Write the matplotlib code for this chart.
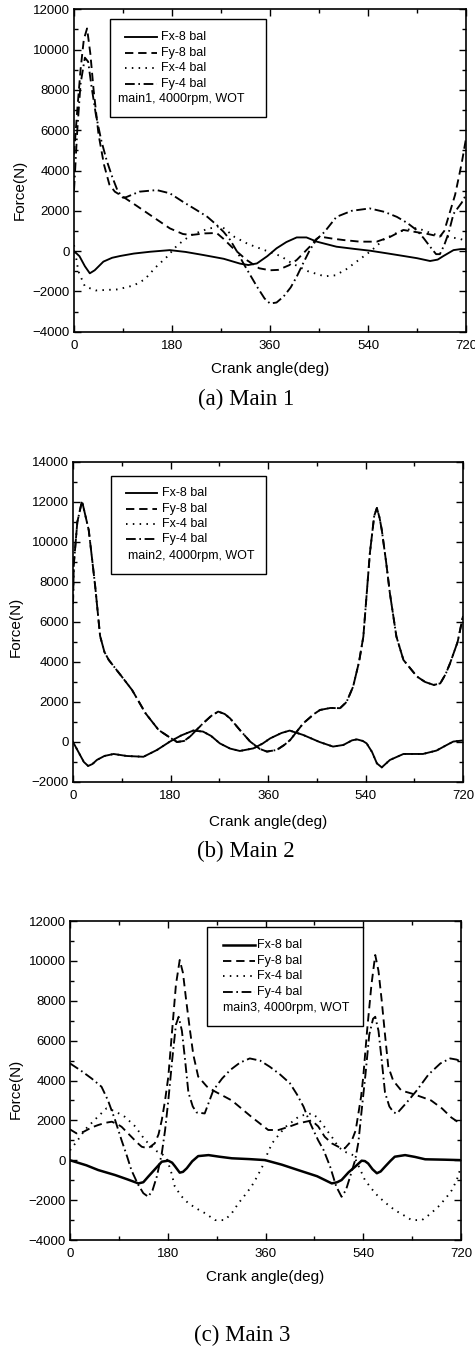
import matplotlib
matplotlib.use("Agg")
import matplotlib.pyplot as plt
from matplotlib.ticker import MultipleLocator, FixedLocator
from matplotlib.patches import Rectangle
from matplotlib.lines import Line2D

plt.rcParams['font.family'] = ['Liberation Sans', 'DejaVu Sans']
plt.rcParams['lines.scale_dashes'] = False

# ---------------- Data: panel (a) Main 1 ----------------
m1_fx8_x = [0, 10, 20, 29, 38, 54, 70, 85, 110, 140, 176, 205, 237, 275, 305, 320, 336, 355, 372, 390,
            409, 427, 446, 482, 515, 544, 575, 605, 630, 654, 668, 678, 697, 710, 720]
m1_fx8_y = [0, -250, -750, -1100, -950, -520, -330, -240, -120, -30, 50, -40, -190, -380, -620, -690, -610,
            -250, 140, 450, 680, 680, 470, 220, 110, 20, -110, -240, -350, -490, -420, -250, 50, 100, 100]

m1_fy8_x = [0, 6, 12, 18, 24, 30, 36, 45, 55, 65, 75, 90, 115, 140, 176, 200, 215, 240, 262, 275, 290,
            317, 340, 360, 375, 395, 409, 425, 434, 445, 452, 475, 495, 525, 556, 580, 605, 625, 650, 672,
            680, 690, 700, 712, 720]
m1_fy8_y = [4800, 7000, 9000, 10500, 11050, 9800, 8000, 5800, 4300, 3300, 2950, 2700, 2250, 1790, 1130,
            850, 800, 880, 900, 600, 200, -440, -850, -950, -930, -700, -440, 0, 250, 600, 720, 620, 550,
            470, 470, 700, 1050, 960, 850, 720, 1000, 1900, 2800, 4350, 5600]

m1_fx4_x = [0, 8, 20, 40, 80, 110, 130, 150, 170, 190, 215, 245, 270, 295, 320, 345, 365, 380, 400, 430,
            460, 480, 500, 520, 545, 570, 600, 630, 660, 690, 710, 720]
m1_fx4_y = [300, -1000, -1750, -1950, -1900, -1700, -1400, -800, -300, 300, 800, 1100, 1250, 700, 350, 100,
            -100, -250, -600, -1000, -1250, -1200, -900, -500, 0, 600, 1000, 1150, 850, 700, 600, 500]

m1_fy4_x = [0, 6, 12, 20, 26, 32, 40, 50, 60, 70, 80, 90, 96, 120, 152, 176, 200, 225, 245, 262, 275, 287,
            300, 311, 325, 336, 350, 360, 372, 385, 398, 409, 420, 433, 446, 460, 482, 510, 543, 570, 593,
            612, 629, 642, 654, 665, 672, 680, 688, 697, 712, 720]
m1_fy4_y = [3000, 6000, 8300, 9600, 9400, 8200, 6800, 5500, 4500, 3700, 3000, 2650, 2680, 2950, 3030,
            2870, 2450, 2040, 1700, 1300, 950, 550, -50, -600, -1250, -1760, -2350, -2600, -2550, -2250,
            -1800, -1270, -650, 50, 600, 950, 1700, 2000, 2120, 1950, 1700, 1400, 1050, 650, 220, -150,
            -150, 300, 900, 1850, 2400, 2800]

# ---------------- Data: panel (b) Main 2 ----------------
m2_fx_x = [0, 10, 20, 28, 36, 44, 58, 75, 99, 130, 155, 179, 200, 222, 240, 255, 271, 290, 308, 333, 350,
           364, 385, 400, 425, 455, 480, 499, 515, 524, 535, 542, 552, 561, 570, 585, 610, 646, 671, 690,
           702, 718, 720]
m2_fx_y = [0, -500, -1000, -1200, -1100, -900, -700, -600, -700, -740, -400, 20, 330, 570, 520, 300, -70,
           -330, -450, -320, -80, 180, 450, 570, 350, 0, -230, -150, 80, 130, 50, -70, -500, -1070, -1270,
           -900, -600, -600, -430, -150, 20, 70, 70]

m2_fy_x = [0, 1.5, 8, 16.6, 23, 29, 35, 41, 50, 58, 66, 90, 109, 134, 158, 180, 192, 205, 216, 240, 255,
           268, 280, 290, 308, 327, 345, 358, 376, 390, 401, 425, 445, 456, 475, 493, 505, 517, 528, 536,
           548, 556, 561, 566, 570, 578, 585, 597, 610, 635, 650, 666, 678, 688, 696, 710, 720]
m2_fy_y = [6900, 8900, 11000, 12050, 11300, 10600, 9200, 7770, 5300, 4500, 4100, 3270, 2600, 1430, 600,
           200, 0, 50, 270, 930, 1300, 1520, 1400, 1180, 600, 20, -350, -480, -400, -150, 100, 930, 1400,
           1600, 1700, 1690, 2000, 2760, 4000, 5270, 9430, 11300, 11700, 11200, 10600, 9000, 7430, 5270,
           4100, 3270, 3000, 2850, 2930, 3400, 3930, 5000, 6300]

# ---------------- Data: panel (c) Main 3 ----------------
m3_fx8_x = [0, 30, 52, 83, 105, 126, 135, 144, 158, 169, 181, 188, 193, 202, 208, 215, 225, 236, 255, 275,
            298, 330, 359, 390, 420, 455, 482, 492, 500, 513, 525, 537, 543, 549, 557, 565, 572, 580, 590,
            598, 617, 635, 654, 690, 718, 720]
m3_fx8_y = [0, -250, -490, -740, -950, -1160, -1100, -820, -400, -70, -20, -120, -290, -620, -580, -400,
            -50, 210, 260, 180, 100, 60, 10, -220, -490, -800, -1160, -1100, -990, -600, -320, -20, -40,
            -160, -450, -650, -560, -320, -30, 180, 260, 170, 50, 30, 10, 0]

m3_fy8_x = [0, 12, 25, 40, 52, 65, 77, 88, 95, 105, 113, 123, 132, 144, 156, 163, 169, 175, 181, 188, 195,
            202, 208, 214, 221, 227, 236, 252, 267, 298, 334, 365, 384, 405, 420, 445, 457, 469, 482, 494,
            506, 519, 526, 531, 536, 540, 547, 555, 562, 568, 574, 580, 586, 595, 610, 629, 650, 665, 685,
            702, 718, 720]
m3_fy8_y = [1550, 1350, 1430, 1650, 1770, 1880, 1935, 1800, 1680, 1400, 1180, 900, 680, 600, 850, 1300,
            2020, 3000, 4190, 6500, 8800, 10050, 9400, 8000, 6500, 5300, 4200, 3700, 3450, 3000, 2180,
            1520, 1520, 1700, 1850, 2000, 1700, 1180, 850, 680, 600, 1000, 1500, 2350, 3200, 4200, 6500,
            8800, 10300, 9500, 8000, 6300, 4700, 4000, 3500, 3350, 3150, 3000, 2600, 2150, 1850, 1800]

m3_fx4_x = [0, 14, 28, 51, 67, 77, 90, 101, 120, 138, 150, 160, 170, 178, 187, 193, 205, 218, 235, 249,
            267, 285, 298, 310, 322, 334, 345, 354, 363, 372, 385, 397, 410, 421, 434, 446, 455, 464, 473,
            482, 494, 504, 513, 522, 530, 543, 556, 568, 584, 598, 614, 629, 648, 663, 678, 692, 703, 712,
            718, 720]
m3_fx4_y = [500, 1000, 1550, 2180, 2600, 2520, 2350, 2180, 1700, 1020, 700, 450, 300, 100, -660, -1320,
            -1800, -2160, -2450, -2660, -3000, -3000, -2650, -2160, -1750, -1320, -800, -320, 300, 850,
            1300, 1680, 1950, 2190, 2300, 2350, 2150, 1850, 1500, 1180, 680, 450, 350, 250, -200, -990,
            -1450, -1830, -2200, -2500, -2750, -3000, -3000, -2700, -2330, -1900, -1500, -1000, -490, -400]

m3_fy4_x = [0, 20, 40, 58, 70, 83, 95, 105, 113, 125, 135, 144, 152, 160, 169, 175, 181, 188, 195, 200,
            206, 212, 218, 226, 233, 248, 264, 280, 295, 313, 331, 350, 368, 387, 405, 418, 430, 440, 448,
            457, 467, 479, 490, 500, 508, 516, 525, 531, 537, 544, 551, 558, 562, 568, 574, 580, 588, 596,
            602, 620, 639, 660, 682, 700, 712, 720]
m3_fy4_y = [4860, 4500, 4100, 3690, 3000, 2020, 1000, 200, -490, -1200, -1650, -1830, -1500, -800, 350,
            1500, 3000, 5000, 6800, 7200, 6500, 5000, 3400, 2700, 2400, 2350, 3520, 4100, 4530, 4900, 5110,
            5000, 4690, 4300, 3860, 3300, 2690, 2000, 1520, 1000, 510, -320, -1300, -1830, -1500, -800, 10,
            900, 2500, 4300, 6300, 7100, 7200, 6500, 5000, 3400, 2700, 2400, 2350, 2900, 3520, 4300, 4860,
            5110, 5050, 4950]

labels = ['Fx-8 bal', 'Fy-8 bal', 'Fx-4 bal', 'Fy-4 bal']
x_ticks = [0, 180, 360, 540, 720]

LW = 1.35
styles = [
    dict(linestyle='-'),
    dict(linestyle=(0, (6.0, 3.5))),
    dict(linestyle=(0, (1.1, 3.8))),
    dict(linestyle=(0, (7.0, 2.6, 1.2, 2.6))),
]

fig = plt.figure(figsize=(4.75, 13.48), dpi=100)


def setup_axes(rect, ylim, ymajor, ylab_coords, xlab_y):
    ax = fig.add_axes(rect)
    ax.set_xlim(0, 720)
    ax.set_ylim(*ylim)
    ax.xaxis.set_major_locator(FixedLocator(x_ticks))
    ax.xaxis.set_minor_locator(MultipleLocator(90))
    ax.yaxis.set_major_locator(MultipleLocator(ymajor))
    ax.yaxis.set_minor_locator(MultipleLocator(ymajor / 2))
    ax.tick_params(which='both', direction='in', top=True, right=True, width=1.0, labelsize=9.5)
    ax.tick_params(which='major', length=5)
    ax.tick_params(which='minor', length=3)
    ax.tick_params(axis='x', pad=6)
    ax.tick_params(axis='y', pad=3)
    for s in ax.spines.values():
        s.set_linewidth(1.2)
    ax.set_xlabel('Crank angle(deg)', fontsize=11)
    ax.set_ylabel('Force(N)', fontsize=11)
    ax.yaxis.set_label_coords(*ylab_coords)
    ax.xaxis.set_label_coords(0.5, xlab_y)
    return ax


def draw_legend(ax, box, rows, hx, tx, mx, note, lws):
    x0, y0, x1, y1 = box
    ax.add_patch(Rectangle((x0, y0), x1 - x0, y1 - y0, transform=ax.transAxes,
                           fill=True, facecolor='white', edgecolor='black', lw=1.0, zorder=5))
    for i, lab in enumerate(labels):
        ln = Line2D([hx[0], hx[1]], [rows[i], rows[i]], transform=ax.transAxes, color='black',
                    lw=lws[i], zorder=6, **styles[i])
        ax.add_line(ln)
        ax.text(tx, rows[i], lab, transform=ax.transAxes, fontsize=9, va='center', ha='left', zorder=6)
    ax.text(mx, rows[4], note, transform=ax.transAxes, fontsize=9, va='center', ha='left', zorder=6)


# ---------- Panel (a) ----------
ax1 = setup_axes([0.1558, 0.7539, 0.8253, 0.2392], (-4000, 12000), 2000, (-0.12, 0.44), -0.093)
ax1.plot(m1_fx8_x, m1_fx8_y, color='black', lw=LW, **styles[0])
ax1.plot(m1_fy8_x, m1_fy8_y, color='black', lw=LW, **styles[1])
ax1.plot(m1_fx4_x, m1_fx4_y, color='black', lw=LW, **styles[2])
ax1.plot(m1_fy4_x, m1_fy4_y, color='black', lw=LW, **styles[3])
draw_legend(ax1, (0.092, 0.666, 0.490, 0.970), [0.913, 0.865, 0.817, 0.768, 0.721],
            (0.130, 0.211), 0.222, 0.113, 'main1, 4000rpm, WOT', [LW] * 4)

# ---------- Panel (b) ----------
ax2 = setup_axes([0.1537, 0.4199, 0.8211, 0.2374], (-2000, 14000), 2000, (-0.128, 0.484), -0.103)
ax2.plot(m2_fx_x, m2_fx_y, color='black', lw=LW, **styles[0])
ax2.plot(m2_fy_x, m2_fy_y, color='black', lw=LW, **styles[1])
ax2.plot(m2_fx_x, m2_fx_y, color='black', lw=LW, **styles[2])
ax2.plot(m2_fy_x, m2_fy_y, color='black', lw=LW, **styles[3])
draw_legend(ax2, (0.097, 0.650, 0.496, 0.956), [0.904, 0.854, 0.805, 0.758, 0.706],
            (0.136, 0.215), 0.229, 0.141, 'main2, 4000rpm, WOT', [LW] * 4)

# ---------- Panel (c) ----------
ax3 = setup_axes([0.1474, 0.0801, 0.8232, 0.2366], (-4000, 12000), 2000, (-0.12, 0.473), -0.094)
ax3.plot(m3_fx8_x, m3_fx8_y, color='black', lw=1.8, **styles[0])
ax3.plot(m3_fy8_x, m3_fy8_y, color='black', lw=LW, **styles[1])
ax3.plot(m3_fx4_x, m3_fx4_y, color='black', lw=LW, **styles[2])
ax3.plot(m3_fy4_x, m3_fy4_y, color='black', lw=LW, **styles[3])
draw_legend(ax3, (0.351, 0.672, 0.749, 0.980), [0.924, 0.876, 0.828, 0.778, 0.728],
            (0.390, 0.473), 0.479, 0.390, 'main3, 4000rpm, WOT', [1.8, LW, LW, LW])

# ---------- Captions ----------
cap = dict(fontsize=16.5, family=['Liberation Serif', 'DejaVu Serif'], ha='center', va='center')
fig.text(0.5175, 0.7033, '(a) Main 1', **cap)
fig.text(0.5175, 0.3682, '(b) Main 2', **cap)
fig.text(0.509, 0.0096, '(c) Main 3', **cap)

fig.savefig('out.png', dpi=100)
